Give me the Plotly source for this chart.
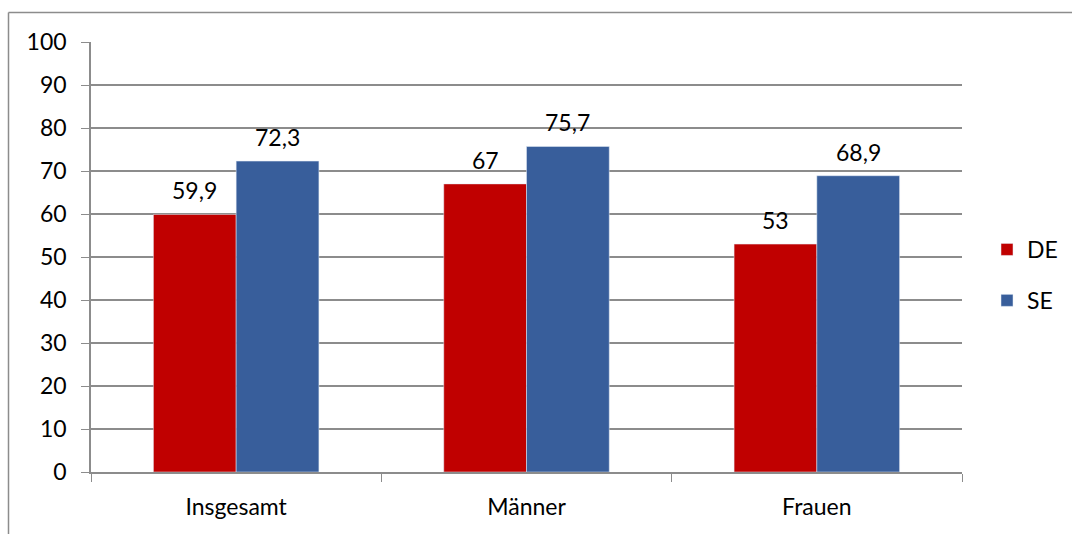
import plotly.graph_objects as go

categories = ["Insgesamt", "Männer", "Frauen"]
de_values = [59.9, 67, 53]
se_values = [72.3, 75.7, 68.9]
de_labels = ["59,9", "67", "53"]
se_labels = ["72,3", "75,7", "68,9"]

FONT = "Lato, Open Sans, sans-serif"
FS = 23
GRID = "#8c8c8c"

L, R, T, B = 91, 110, 42, 62
W, H = 1072, 534
pw, ph = W - L - R, H - T - B
BARGAP = 0.43
bar_w = (1 - BARGAP) * pw / len(categories) / 2

fig = go.Figure()
fig.add_trace(go.Bar(name="DE", x=categories, y=de_values, marker_color="#C00000",
                     legendgroup="de"))
fig.add_trace(go.Bar(name="SE", x=categories, y=se_values, marker_color="#385E9B",
                     legendgroup="se"))

annotations = []
for vals, labs, sign in ((de_values, de_labels, -1), (se_values, se_labels, 1)):
    for c, v, t in zip(categories, vals, labs):
        annotations.append(dict(x=c, y=v, xref="x", yref="y", text=t, showarrow=False,
                                xshift=sign * bar_w / 2, yshift=8, yanchor="bottom",
                                font=dict(size=FS, color="black", family=FONT)))

fig.update_layout(
    width=W, height=H,
    margin=dict(l=L, r=R, t=T, b=B, autoexpand=False),
    paper_bgcolor="white", plot_bgcolor="white",
    barmode="group", bargap=BARGAP, bargroupgap=0,
    font=dict(family=FONT, size=FS, color="black"),
    showlegend=True,
    legend=dict(xref="container", yref="container", x=987 / W, y=1 - 275 / H,
                xanchor="left", yanchor="middle",
                font=dict(size=FS), itemwidth=30, tracegroupgap=18,
                bgcolor="rgba(0,0,0,0)"),
    xaxis=dict(tickson="boundaries", ticks="outside", ticklen=8, tickcolor=GRID,
               showline=True, linecolor=GRID, linewidth=1.5, showgrid=False,
               tickfont=dict(size=FS), ticklabelstandoff=14),
    yaxis=dict(range=[0, 100], dtick=10, ticks="outside", ticklen=8, tickcolor=GRID,
               showline=True, linecolor=GRID, linewidth=1.5,
               showgrid=True, gridcolor=GRID, gridwidth=1.5,
               zeroline=False, tickfont=dict(size=FS), ticklabelstandoff=10),
    annotations=annotations,
    shapes=[
        dict(type="line", xref="paper", yref="paper",
             x0=(8.5 - L) / pw, x1=(W + 5 - L) / pw,
             y0=(H - B - 12.5) / ph, y1=(H - B - 12.5) / ph,
             line=dict(color=GRID, width=1.5)),
        dict(type="line", xref="paper", yref="paper",
             x0=(8.5 - L) / pw, x1=(8.5 - L) / pw,
             y0=(H - B - 12.5) / ph, y1=(H - B - 545) / ph,
             line=dict(color=GRID, width=1.5)),
    ],
)

fig.write_html("out.html")
